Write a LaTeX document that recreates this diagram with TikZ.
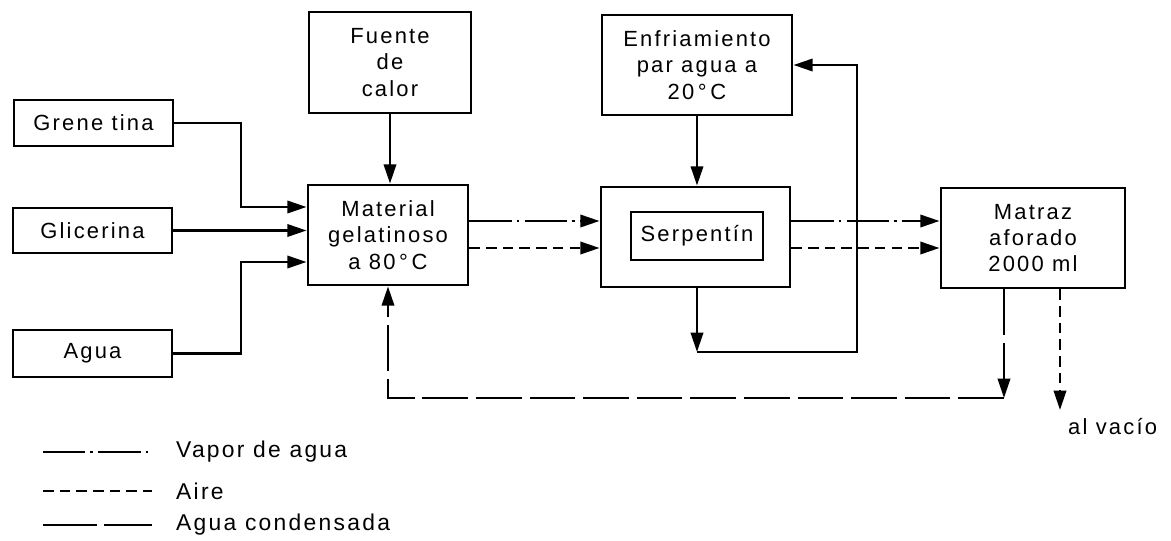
\documentclass[tikz,border=0pt]{standalone}
\usepackage{fontspec}
\setmainfont{Liberation Sans}[LetterSpace=10.0]
\usepackage{tikz}
\usetikzlibrary{arrows.meta,calc}
\tikzset{
  box/.style={draw, line width=1.6pt, rectangle, align=center, inner sep=2pt, font=\fontsize{12.5}{15}\selectfont},
  water/.style={line width=1.5pt},
  vapor/.style={line width=1.5pt, dash pattern=on 24pt off 3pt on 1.5pt off 3pt},
  aire/.style={line width=1.5pt, dash pattern=on 6pt off 3.5pt},
  cond/.style={line width=1.5pt, dash pattern=on 26pt off 4.5pt},
  >={Triangle[length=11pt,width=7pt]}
}

\begin{document}
\begin{tikzpicture}[x=0.02cm,y=-0.02cm]
\useasboundingbox (0,0) rectangle (1171,541);
\node[box, minimum width=3.18cm, minimum height=0.92cm] (gren) at (93.5,123) {Grene tina};
\node[box, minimum width=3.18cm, minimum height=0.9cm] (glic) at (92.5,230.5) {Glicerina};
\node[box, minimum width=3.18cm, minimum height=0.94cm] (agua) at (92.5,353.5) {Agua};
\node[box, minimum width=3.24cm, minimum height=2.02cm] (fuente) at (390,62.5) {Fuente\\de\\calor};
\node[box, minimum width=3.2cm, minimum height=2.0cm] (mat) at (388,235) {Material\\gelatinoso\\a 80\,°\,C};
\node[box, minimum width=3.8cm, minimum height=2.0cm] (enfr) at (697,65) {Enfriamiento\\par agua a\\20\,°\,C};
\node[box, minimum width=3.78cm, minimum height=2.0cm] (serp) at (695.5,237) {};
\node[box, minimum width=2.64cm, minimum height=0.96cm] (serpin) at (697,236) {Serpentín};
\node[box, minimum width=3.68cm, minimum height=2.0cm] (matraz) at (1033,238) {Matraz\\aforado\\2000 ml};
\node[anchor=north west, font=\fontsize{12.5}{15}\selectfont] (vacio) at (1062,412) {al vacío};

\coordinate (jx) at (241,0);
\coordinate (in1) at (0,207);
\coordinate (in3) at (0,262);
\coordinate (yv) at (0,221);
\coordinate (yd) at (0,248);
\coordinate (coolA) at (697,352);
\coordinate (coolB) at (857,352);
\coordinate (ret) at (1004,398);
\coordinate (vacend) at (1060,410);

\draw[water,->] (gren.east) -| (jx |- in1) -- (mat.west |- in1);
\draw[water,->] (glic.east) -- (mat.west |- glic.east);
\draw[water,->] (agua.east) -| (jx |- in3) -- (mat.west |- in3);
\draw[water,->] (fuente.south) -- (fuente.south |- mat.north);
\draw[water,->] (enfr.south) -- (enfr.south |- serp.north);
\draw[vapor,->] (mat.east |- yv) -- (serp.west |- yv);
\draw[aire,->] (mat.east |- yd) -- (serp.west |- yd);
\draw[vapor,->] (serp.east |- yv) -- (matraz.west |- yv);
\draw[aire,->] (serp.east |- yd) -- (matraz.west |- yd);
\draw[water,->] (coolA |- serp.south) -- (coolA);
\draw[water,->] (coolA) -- (coolB) |- (enfr.east);
\draw[cond,->] (ret |- matraz.south) -- (ret);
\draw[cond,->] (ret) -| (mat.south);
\draw[aire,->] (vacend |- matraz.south) -- (vacend);

\node[anchor=west, font=\fontsize{13}{15}\selectfont] (lvap) at (170,452) {Vapor de agua};
\node[anchor=west, font=\fontsize{13}{15}\selectfont] (laire) at (170,491) {Aire};
\node[anchor=west, font=\fontsize{13}{15}\selectfont] (lcond) at (170,525) {Agua condensada};
\draw[vapor] (43,452) -- (152,452);
\draw[aire] (43,491) -- (152,491);
\draw[cond, dash pattern=on 31pt off 4pt] (43,525) -- (152,525);
\end{tikzpicture}
\end{document}
